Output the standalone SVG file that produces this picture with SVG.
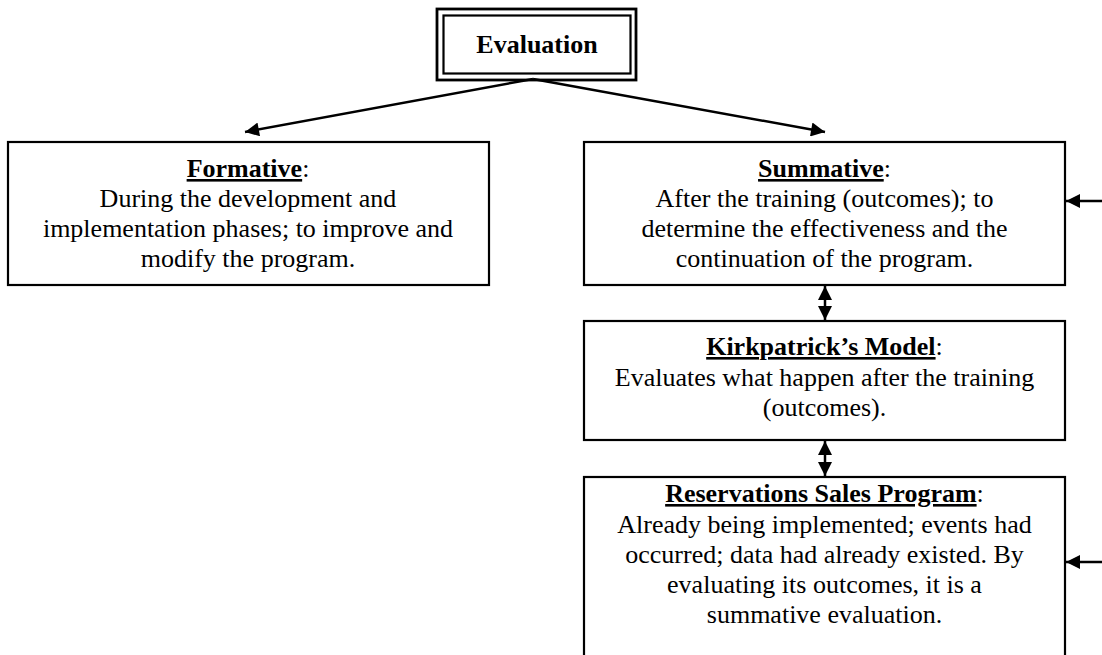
<svg xmlns="http://www.w3.org/2000/svg" width="1102" height="655" viewBox="0 0 1102 655">
<defs>
<style>
.box{fill:#fff;stroke:#000;stroke-width:2.2}
.t{font-family:"Liberation Serif","Times New Roman",serif;font-size:26px;fill:#000;text-anchor:middle}
.b{font-weight:bold}
.u{font-weight:bold;text-decoration:underline}
.ln{stroke:#000;stroke-width:2.5;fill:none}
</style>
<marker id="ah" viewBox="0 0 10 10" refX="10" refY="5" markerWidth="17" markerHeight="14" markerUnits="userSpaceOnUse" orient="auto">
<path d="M0,0 L10,5 L0,10 z" fill="#000"/>
</marker>
</defs>
<rect width="1102" height="655" fill="#fff"/>
<g id="evaluation">
<rect x="437" y="9" width="199" height="71" fill="#fff" stroke="#000" stroke-width="2.8"/>
<rect x="443.5" y="15.5" width="187" height="58" fill="none" stroke="#000" stroke-width="2.2"/>
<text class="t b" x="537" y="53">Evaluation</text>
</g>
<g id="formative">
<rect class="box" x="8" y="142" width="481" height="143"/>
<text class="t" x="248" y="177"><tspan class="u">Formative</tspan>:</text>
<text class="t" x="248" y="207">During the development and</text>
<text class="t" x="248" y="237">implementation phases; to improve and</text>
<text class="t" x="248" y="267">modify the program.</text>
</g>
<g id="summative">
<rect class="box" x="584" y="142" width="481" height="143"/>
<text class="t" x="824.5" y="177"><tspan class="u">Summative</tspan>:</text>
<text class="t" x="824.5" y="207">After the training (outcomes); to</text>
<text class="t" x="824.5" y="237">determine the effectiveness and the</text>
<text class="t" x="824.5" y="267">continuation of the program.</text>
</g>
<g id="kirkpatrick">
<rect class="box" x="584" y="321" width="481" height="119"/>
<text class="t" x="824.5" y="355"><tspan class="u">Kirkpatrick’s Model</tspan>:</text>
<text class="t" x="824.5" y="386">Evaluates what happen after the training</text>
<text class="t" x="824.5" y="416">(outcomes).</text>
</g>
<g id="reservations">
<rect class="box" x="584" y="477" width="481" height="190"/>
<text class="t" x="824.5" y="502"><tspan class="u">Reservations Sales Program</tspan>:</text>
<text class="t" x="824.5" y="533">Already being implemented; events had</text>
<text class="t" x="824.5" y="563">occurred; data had already existed. By</text>
<text class="t" x="824.5" y="593">evaluating its outcomes, it is a</text>
<text class="t" x="824.5" y="623">summative evaluation.</text>
</g>
<g id="connectors">
<line class="ln" x1="533" y1="79" x2="245" y2="132" marker-end="url(#ah)"/>
<line class="ln" x1="533" y1="79" x2="825" y2="132" marker-end="url(#ah)"/>
<line class="ln" x1="1102" y1="201" x2="1066" y2="201" marker-end="url(#ah)"/>
<line class="ln" x1="1102" y1="562" x2="1066" y2="562" marker-end="url(#ah)"/>
<line class="ln" x1="825" y1="303" x2="825" y2="286" marker-end="url(#ah)"/>
<line class="ln" x1="825" y1="303" x2="825" y2="320" marker-end="url(#ah)"/>
<line class="ln" x1="825" y1="458" x2="825" y2="441" marker-end="url(#ah)"/>
<line class="ln" x1="825" y1="458" x2="825" y2="476" marker-end="url(#ah)"/>
</g>
</svg>
